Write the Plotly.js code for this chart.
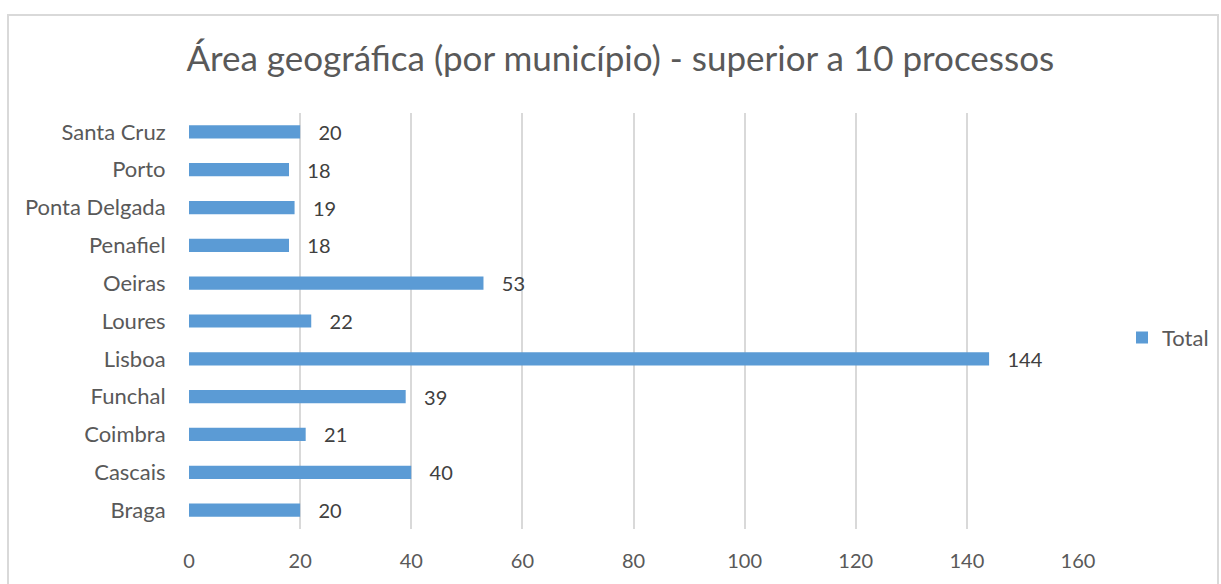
<!DOCTYPE html>
<html>
<head>
<meta charset="utf-8">
<script src="https://cdn.plot.ly/plotly-3.0.1.min.js"></script>
<style>
body{margin:0;padding:0;background:#fff;}
#chart{position:absolute;left:0;top:0;width:1221px;height:584px;}
#frame{position:absolute;left:7px;top:14px;width:1212px;height:600px;border:2px solid #d9d9d9;pointer-events:none;box-sizing:border-box;}
</style>
</head>
<body>
<div id="chart"></div>
<div id="frame"></div>
<script>
const categories = ["Braga","Cascais","Coimbra","Funchal","Lisboa","Loures","Oeiras","Penafiel","Ponta Delgada","Porto","Santa Cruz"];
const totals = [20,40,21,39,144,22,53,18,19,18,20];
const xTicks = [0,20,40,60,80,100,120,140,160];

const font = "Lato, 'Open Sans', sans-serif";
const trace = {
  type: 'bar',
  orientation: 'h',
  name: 'Total',
  y: categories,
  x: totals,
  marker: {color: '#5B9BD5'},
  text: totals.map(v => '   ' + v),
  textposition: 'outside',
  constraintext: 'none',
  textfont: {family: font, size: 20, color: '#404040'},
  cliponaxis: false,
  showlegend: true
};
const layout = {
  width: 1221, height: 584,
  margin: {l: 189, r: 143, t: 113, b: 55, autoexpand: false},
  paper_bgcolor: '#ffffff',
  plot_bgcolor: '#ffffff',
  bargap: 0.65,
  title: {text: 'Área geográfica (por município) - superior a 10 processos',
          font: {family: font, size: 35, color: '#595959'},
          x: 0.508, xanchor: 'center', y: 0.9, yanchor: 'middle', yref: 'container'},
  xaxis: {range: [0,160], tickvals: xTicks, ticktext: xTicks.map(String),
          showgrid: true, gridcolor: '#d9d9d9', gridwidth: 2, zeroline: false,
          showline: false, ticks: 'outside', ticklen: 14, tickcolor: 'rgba(0,0,0,0)',
          tickfont: {family: font, size: 20, color: '#595959'}, fixedrange: true},
  yaxis: {type: 'category', categoryorder: 'array', categoryarray: categories,
          showgrid: false, zeroline: false, showline: false,
          ticks: 'outside', ticklen: 18, tickcolor: 'rgba(0,0,0,0)',
          tickfont: {family: font, size: 22, color: '#595959'}, fixedrange: true},
  legend: {x: 1.0495, y: 0.46, xanchor: 'left', yanchor: 'middle',
           font: {family: font, size: 22, color: '#595959'},
           bgcolor: 'rgba(0,0,0,0)'},
  showlegend: true
};
Plotly.newPlot('chart', [trace], layout, {displayModeBar: false, staticPlot: true});
</script>
</body>
</html>
